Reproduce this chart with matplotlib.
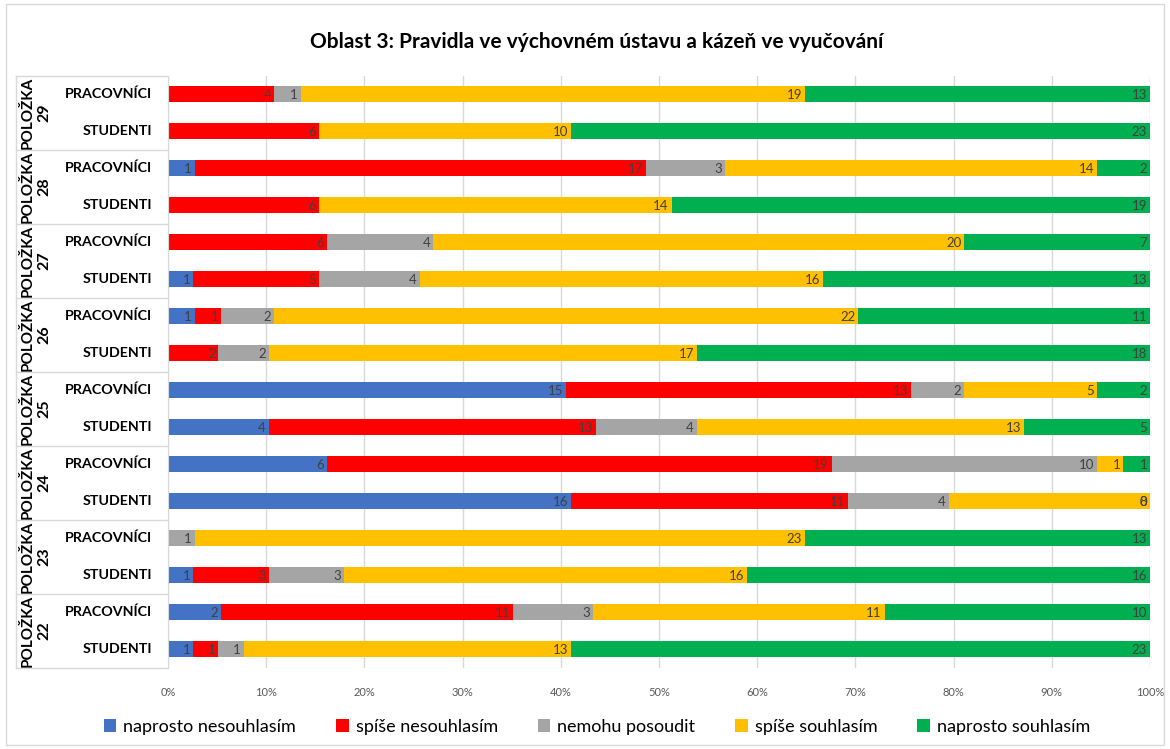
import matplotlib
matplotlib.use("Agg")
import matplotlib.pyplot as plt
from matplotlib.transforms import blended_transform_factory
from matplotlib.lines import Line2D
from matplotlib.patches import Rectangle, Patch

plt.rcParams['font.family'] = ['Lato', 'DejaVu Sans']

title = "Oblast 3: Pravidla ve výchovném ústavu a kázeň ve vyučování"
series_names = ["naprosto nesouhlasím", "spíše nesouhlasím", "nemohu posoudit",
                "spíše souhlasím", "naprosto souhlasím"]
colors = ["#4472C4", "#FF0000", "#A5A5A5", "#FFC000", "#00B050"]

items = ["29", "28", "27", "26", "25", "24", "23", "22"]
groups = ["PRACOVNÍCI", "STUDENTI"]

# rows top -> bottom; values per series (None = empty cell, no label)
naprosto_nesouhlasim = [None, None, 1, None, None, 1, 1, None, 15, 4, 6, 16, None, 1, 2, 1]
spise_nesouhlasim    = [4, 6, 17, 6, 6, 5, 1, 2, 13, 13, 19, 11, None, 3, 11, 1]
nemohu_posoudit      = [1, None, 3, None, 4, 4, 2, 2, 2, 4, 10, 4, 1, 3, 3, 1]
spise_souhlasim      = [19, 10, 14, 14, 20, 16, 22, 17, 5, 13, 1, 8, 23, 16, 11, 13]
naprosto_souhlasim   = [13, 23, 2, 19, 7, 13, 11, 18, 2, 5, 1, 0, 13, 16, 10, 23]

series = [naprosto_nesouhlasim, spise_nesouhlasim, nemohu_posoudit,
          spise_souhlasim, naprosto_souhlasim]
xticks = [0, 10, 20, 30, 40, 50, 60, 70, 80, 90, 100]

W, H = 1170, 749
fig = plt.figure(figsize=(W / 100, H / 100), dpi=100)
ax = fig.add_axes([168 / W, 1 - 667.5 / H, (1150 - 168) / W, (667.5 - 75.5) / H])

nrows = len(spise_souhlasim)
totals = [sum(s[i] or 0 for s in series) for i in range(nrows)]
left = [0.0] * nrows
for s, c, name in zip(series, colors, series_names):
    widths = [100.0 * (v or 0) / totals[i] for i, v in enumerate(s)]
    ax.barh(range(nrows), widths, left=left, height=0.41, color=c, label=name, zorder=2)
    for i, v in enumerate(s):
        if v is not None:
            ax.annotate(str(v), xy=(left[i] + widths[i], i), xytext=(-2, -0.5),
                        textcoords="offset points", ha="right", va="center",
                        fontsize=9.5, color="#404040", zorder=3)
    left = [l + w for l, w in zip(left, widths)]

ax.set_xlim(0, 100)
ax.set_ylim(nrows - 0.5, -0.5)
ax.set_xticks(xticks)
ax.set_xticklabels([f"{t}%" for t in xticks], fontsize=8, color="#595959")
ax.tick_params(axis="x", length=0, pad=14)
ax.set_yticks([])
ax.grid(axis="x", color="#D9D9D9", linewidth=1, zorder=0)
for sp in ["top", "right", "bottom"]:
    ax.spines[sp].set_visible(False)
ax.spines["left"].set_color("#D9D9D9")

# left category labels
tr = blended_transform_factory(fig.transFigure, ax.transData)
for i in range(nrows):
    ax.text(152 / W, i, groups[i % 2], transform=tr, ha="right", va="center",
            fontsize=10.3, fontweight="bold", color="#000000")
for g, item in enumerate(items):
    yc = 2 * g + 0.5
    ax.text(28 / W, yc, "POLOŽKA", transform=tr, rotation=90,
            ha="center", va="center", fontsize=11, fontweight="bold", color="#000000")
    ax.text(44 / W, yc, item, transform=tr, rotation=90,
            ha="center", va="center", fontsize=11.5, fontweight="bold", color="#000000")
for k in range(len(items) + 1):
    yb = 2 * k - 0.5
    fig.add_artist(Line2D([16 / W, 167 / W], [yb, yb], transform=tr,
                          color="#D9D9D9", linewidth=1))
fig.add_artist(Line2D([16 / W, 16 / W], [1 - 75.5 / H, 1 - 668 / H],
                      transform=fig.transFigure, color="#D9D9D9", linewidth=1))

# title
fig.text(597 / W, 1 - 42 / H, title, ha="center", va="center",
         fontsize=15, fontweight="bold", color="#000000")

# legend
handles = [Patch(facecolor=c, label=n) for c, n in zip(colors, series_names)]
fig.legend(handles=handles, loc="center", bbox_to_anchor=(597 / W, 1 - 727 / H),
           ncol=5, frameon=False, fontsize=13, handlelength=0.7, handleheight=0.7,
           handletextpad=0.4, columnspacing=2.2)

# chart border
fig.add_artist(Rectangle((6 / W, 4 / H), 1 - 12 / W, 1 - 8 / H, transform=fig.transFigure,
                         fill=False, edgecolor="#D9D9D9", linewidth=1))

fig.savefig("out.png", dpi=100)
